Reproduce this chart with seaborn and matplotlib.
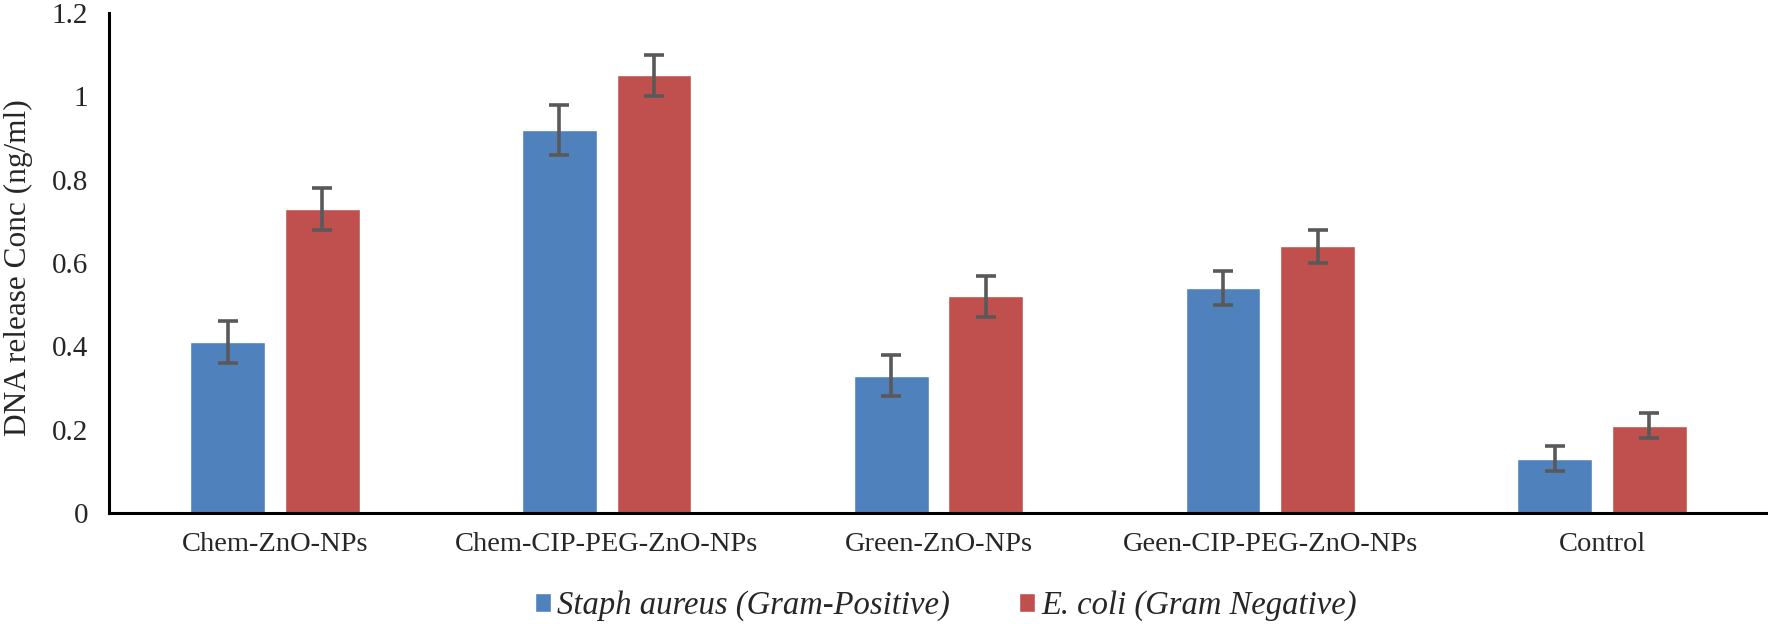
import matplotlib
matplotlib.use("Agg")
import matplotlib.pyplot as plt
import seaborn as sns
import pandas as pd
import numpy as np

categories = ["Chem-ZnO-NPs", "Chem-CIP-PEG-ZnO-NPs", "Green-ZnO-NPs",
              "Geen-CIP-PEG-ZnO-NPs", "Control"]
series_names = ["Staph aureus (Gram-Positive)", "E. coli (Gram Negative)"]
staph_values = [0.41, 0.92, 0.33, 0.54, 0.13]
ecoli_values = [0.73, 1.05, 0.52, 0.64, 0.21]
staph_err = [0.05, 0.06, 0.05, 0.04, 0.03]
ecoli_err = [0.05, 0.05, 0.05, 0.04, 0.03]
yticks = [0, 0.2, 0.4, 0.6, 0.8, 1.0, 1.2]
ytick_labels = ["0", "0.2", "0.4", "0.6", "0.8", "1", "1.2"]

sns.set_style("white")
plt.rcParams['font.family'] = ['Liberation Serif', 'DejaVu Serif']

df = pd.DataFrame({
    "category": categories * 2,
    "series": [series_names[0]] * 5 + [series_names[1]] * 5,
    "value": staph_values + ecoli_values,
})
errs = {series_names[0]: staph_err, series_names[1]: ecoli_err}

fig = plt.figure(figsize=(17.68, 6.24), dpi=100)
ax = fig.add_axes([109 / 1768, 111 / 624, 1659 / 1768, 500 / 624])

palette = {series_names[0]: "#4F81BD", series_names[1]: "#C0504D"}
sns.barplot(data=df, x="category", y="value", hue="series", order=categories,
            hue_order=series_names, palette=palette, width=0.57, gap=0.21,
            errorbar=None, ax=ax, saturation=1, legend=True)

# error bars at bar centers
for container, name in zip(ax.containers, series_names):
    xs = [p.get_x() + p.get_width() / 2 for p in container.patches]
    hs = [p.get_height() for p in container.patches]
    ax.errorbar(xs, hs, yerr=errs[name], fmt="none", ecolor="#595959",
                elinewidth=2.6, capsize=7, capthick=2.6, zorder=5)

ax.set_ylim(0, 1.2)
ax.set_xlim(-0.5, 4.5)
ax.set_yticks(yticks)
ax.set_yticklabels(ytick_labels)
ax.tick_params(axis="y", length=0, pad=15, labelsize=21)
ax.tick_params(axis="x", length=0, pad=14, labelsize=20.5)
ax.set_xlabel("")
ax.set_ylabel("DNA release Conc (ng/ml)", fontsize=22.5)
ax.yaxis.set_label_coords(-0.046, 0.49)

for s in ["top", "right"]:
    ax.spines[s].set_visible(False)
for s in ["left", "bottom"]:
    ax.spines[s].set_color("black")
    ax.spines[s].set_linewidth(2.2)

leg = ax.get_legend()
handles = leg.legend_handles
leg.remove()
fig.legend(handles, series_names, loc="center", bbox_to_anchor=(0.535, 0.029),
           ncol=2, frameon=False, prop={"style": "italic", "size": 23.5},
           handlelength=0.5, handleheight=0.5, handletextpad=0.2,
           columnspacing=2.1)

fig.savefig("out.png", dpi=100)
